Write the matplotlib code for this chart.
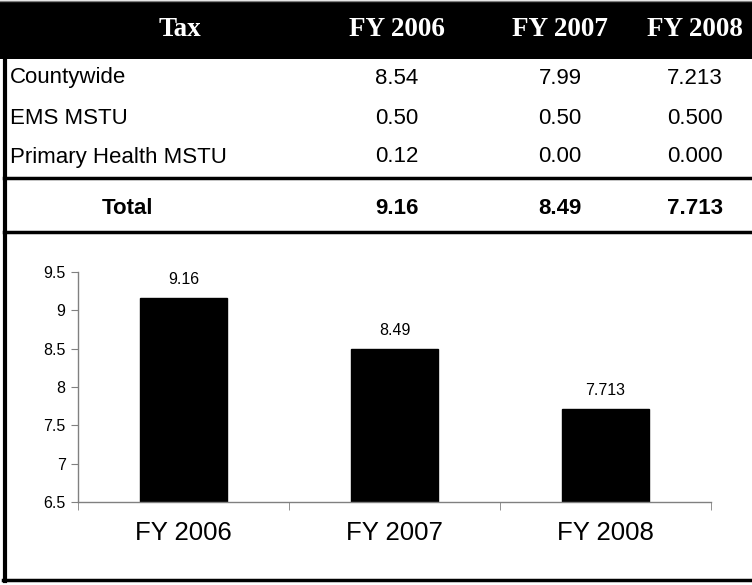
import matplotlib
matplotlib.use("Agg")
import matplotlib.pyplot as plt
from matplotlib.lines import Line2D
from matplotlib.patches import Rectangle

# Millage table
header = ["Tax", "FY 2006", "FY 2007", "FY 2008"]
tax_rows = ["Countywide", "EMS MSTU", "Primary Health MSTU"]
fy2006 = ["8.54", "0.50", "0.12"]
fy2007 = ["7.99", "0.50", "0.00"]
fy2008 = ["7.213", "0.500", "0.000"]
total_row = ["Total", "9.16", "8.49", "7.713"]

# Chart data
years = ["FY 2006", "FY 2007", "FY 2008"]
totals = [9.16, 8.49, 7.713]
total_labels = ["9.16", "8.49", "7.713"]

W, H = 752, 585
fig = plt.figure(figsize=(W / 100, H / 100), dpi=100)
fig.patch.set_facecolor("white")

# overlay axes in pixel coordinates for the table and frame
tab = fig.add_axes([0, 0, 1, 1])
tab.set_xlim(0, W)
tab.set_ylim(H, 0)
tab.axis("off")

tab.add_patch(Rectangle((0, 1), W, 58, facecolor="black", edgecolor="none"))
tab.add_line(Line2D([0, W], [0.5, 0.5], color="#808080", lw=1))

col_x = [180, 397, 560, 695]
serif = "Liberation Serif"
sans = "Liberation Sans"
for x, h in zip(col_x, header):
    tab.text(x, 30, h, color="white", fontsize=19.5, fontweight="bold",
             family=serif, ha="center", va="center", fontstretch="condensed")

row_y = [78, 118, 157]
for i, name in enumerate(tax_rows):
    y = row_y[i]
    tab.text(10, y, name, fontsize=16, family=sans, ha="left", va="center")
    for x, v in zip(col_x[1:], [fy2006[i], fy2007[i], fy2008[i]]):
        tab.text(x, y, v, fontsize=16, family=sans, ha="center", va="center")

tab.text(128, 208, total_row[0], fontsize=16, family=sans, fontweight="bold",
         ha="center", va="center")
for x, v in zip(col_x[1:], total_row[1:]):
    tab.text(x, 208, v, fontsize=16, family=sans, fontweight="bold",
             ha="center", va="center")

# table / frame lines
tab.add_line(Line2D([4, W], [178, 178], color="black", lw=2.5))
tab.add_line(Line2D([4, W], [232, 232], color="black", lw=2.5))
tab.add_line(Line2D([4.5, 4.5], [58, 581], color="black", lw=3))
tab.add_line(Line2D([3, W], [580, 580], color="black", lw=2.5))

# bar chart
ax = fig.add_axes([78 / W, 1 - 502 / H, (711 - 78) / W, (502 - 272) / H])
x = range(len(years))
bars = ax.bar(x, totals, width=0.41, color="black", edgecolor="black")
ax.set_xlim(-0.5, 2.5)
ax.set_ylim(6.5, 9.5)
ax.set_yticks([6.5, 7, 7.5, 8, 8.5, 9, 9.5])
ax.set_yticklabels(["6.5", "7", "7.5", "8", "8.5", "9", "9.5"], fontsize=11.5, family=sans)
ax.set_xticks(list(x))
ax.set_xticklabels(years, fontsize=18.5, family=sans)
ax.set_xticks([-0.5, 0.5, 1.5, 2.5], minor=True)
ax.tick_params(axis="x", which="major", length=0, pad=14)
ax.tick_params(axis="x", which="minor", length=6, color="#808080", direction="out")
ax.tick_params(axis="y", length=5, color="#808080", direction="out", pad=4)

for s in ["top", "right"]:
    ax.spines[s].set_visible(False)
for s in ["left", "bottom"]:
    ax.spines[s].set_color("#808080")
    ax.spines[s].set_linewidth(1)

for b, lab in zip(bars, total_labels):
    ax.annotate(lab, (b.get_x() + b.get_width() / 2, b.get_height()),
                xytext=(0, 8), textcoords="offset points",
                ha="center", va="bottom", fontsize=11.5, family=sans)

fig.savefig("out.png", dpi=100)
